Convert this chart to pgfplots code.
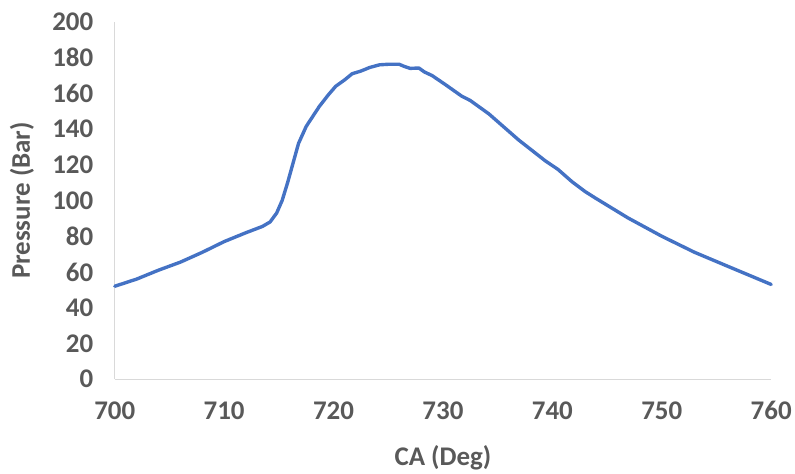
\documentclass[border=0pt]{standalone}
\usepackage{pgfplots}
\pgfplotsset{compat=1.18}
\usepackage{fontspec}
\setmainfont{Carlito}
\definecolor{txtgray}{HTML}{595959}
\definecolor{axgray}{HTML}{D9D9D9}
\definecolor{lineblue}{HTML}{4472C4}
\begin{document}
\begin{tikzpicture}
\begin{axis}[
  scale only axis,
  width=658pt, height=358pt,
  xmin=700, xmax=760, ymin=0, ymax=200,
  xtick={700,710,...,760}, ytick={0,20,...,200},
  axis lines=left,
  axis line style={-, axgray, line width=1.2pt},
  major tick length=0pt,
  /pgf/number format/assume math mode=true,
  /pgf/number format/set thousands separator={},
  ticklabel style={font=\fontsize{27}{32}\selectfont\bfseries, text=txtgray},
  yticklabel style={xshift=-18pt},
  xticklabel style={yshift=-19pt},
  label style={font=\fontsize{27}{32}\selectfont\bfseries, text=txtgray},
  xlabel={CA (Deg)},
  ylabel={Pressure (Bar)},
  xlabel style={at={(axis description cs:0.5,-0.2207)}, anchor=center},
  ylabel style={at={(axis description cs:-0.1413,0.5)}, anchor=center},
  clip=false,
]
\addplot[lineblue, line width=3.4pt, line join=round, line cap=round] coordinates {
(700,52) (702,56) (704,61) (706,65.5) (708,71) (710,77) (712,82)
(713.5,85.5) (714.2,88) (714.8,93) (715.3,100) (715.8,110) (716.3,121)
(716.8,132) (717.5,141.5) (718.7,152.7) (719.5,159) (720.2,164) (721,167.5)
(721.7,171) (722.5,172.5) (723.3,174.5) (724.2,176) (725,176.3) (726,176.3)
(726.5,175) (727,174) (727.8,174.2) (728.3,172) (729,170) (730.2,165)
(731.7,158.5) (732.5,156) (734.2,148.5) (736.9,134) (739.4,122) (740.5,117.5)
(741.8,110.5) (743,105) (743.9,101.5) (746.9,90.3) (750,80) (753,71)
(756.1,63) (760,53)
};
\end{axis}
\path ([xshift=-115pt,yshift=-92pt]current axis.south west) rectangle ([xshift=22pt,yshift=22pt]current axis.north east);
\end{tikzpicture}
\end{document}
